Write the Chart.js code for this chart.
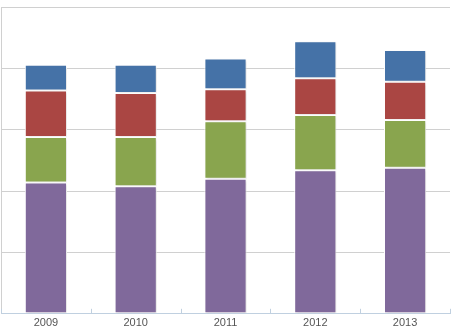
<!DOCTYPE html>
<html>
<head>
<meta charset="utf-8">
<script src="https://cdn.jsdelivr.net/npm/chart.js@4"></script>
<style>
  html, body { margin: 0; padding: 0; background: #fff; }
  #wrap { width: 454px; height: 329px; }
</style>
</head>
<body>
<div id="wrap"><canvas id="chart"></canvas></div>
<script>
// yearly totals split into four stacked parts
const years = ["2009", "2010", "2011", "2012", "2013"];
const purpleValues = [107, 104, 110, 117, 119];
const greenValues = [37, 40, 47, 45, 39];
const redValues = [38, 36, 26, 30, 31];
const blueValues = [21, 23, 25, 30, 26];

const yMax = 250;
const yStep = 50;

const colors = {
  purple: "#80699B",
  green: "#89A54E",
  red: "#AA4643",
  blue: "#4572A7",
  grid: "#d0d0d0",
  axis: "#c0d0e0",
  text: "#555",
};

function series(data, color) {
  return {
    data: data,
    backgroundColor: color,
    borderColor: "#ffffff",
    borderWidth: 1,
    borderSkipped: false,
    barPercentage: 0.47,
    categoryPercentage: 1,
  };
}

// soft drop shadow on the columns
const barShadow = {
  id: "barShadow",
  beforeDatasetsDraw(chart) {
    const ctx = chart.ctx;
    ctx.save();
    ctx.shadowColor = "rgba(0,0,0,0.13)";
    ctx.shadowOffsetX = 2;
    ctx.shadowOffsetY = 1;
    ctx.shadowBlur = 3;
  },
  afterDatasetsDraw(chart) {
    chart.ctx.restore();
  },
};

// short ticks between categories, pointing up from the x axis
const categoryTicks = {
  id: "categoryTicks",
  afterDraw(chart) {
    const { ctx, scales } = chart;
    const x = scales.x;
    const n = years.length;
    ctx.save();
    ctx.strokeStyle = colors.axis;
    ctx.lineWidth = 1;
    for (let i = 0; i <= n; i++) {
      const px = Math.round(x.left + (i * x.width) / n) + 0.5;
      ctx.beginPath();
      ctx.moveTo(px, x.top - 5);
      ctx.lineTo(px, x.top);
      ctx.stroke();
    }
    ctx.restore();
  },
};

new Chart(document.getElementById("chart"), {
  type: "bar",
  data: {
    labels: years,
    datasets: [
      series(purpleValues, colors.purple),
      series(greenValues, colors.green),
      series(redValues, colors.red),
      series(blueValues, colors.blue),
    ],
  },
  options: {
    responsive: true,
    maintainAspectRatio: false,
    animation: false,
    layout: { padding: { left: 1, right: 4, top: 7, bottom: -4 } },
    plugins: {
      legend: { display: false },
      tooltip: { enabled: false },
    },
    scales: {
      x: {
        stacked: true,
        grid: { display: false, drawTicks: false },
        border: { display: true, color: colors.axis, width: 1 },
        ticks: {
          color: colors.text,
          padding: 3,
          font: { family: "Liberation Sans, Arial, sans-serif", size: 11 },
        },
      },
      y: {
        stacked: true,
        min: 0,
        max: yMax,
        grid: { color: colors.grid, drawTicks: false },
        border: { display: true, color: colors.grid, width: 1 },
        ticks: { display: false, stepSize: yStep },
      },
    },
  },
  plugins: [barShadow, categoryTicks],
});
</script>
</body>
</html>
